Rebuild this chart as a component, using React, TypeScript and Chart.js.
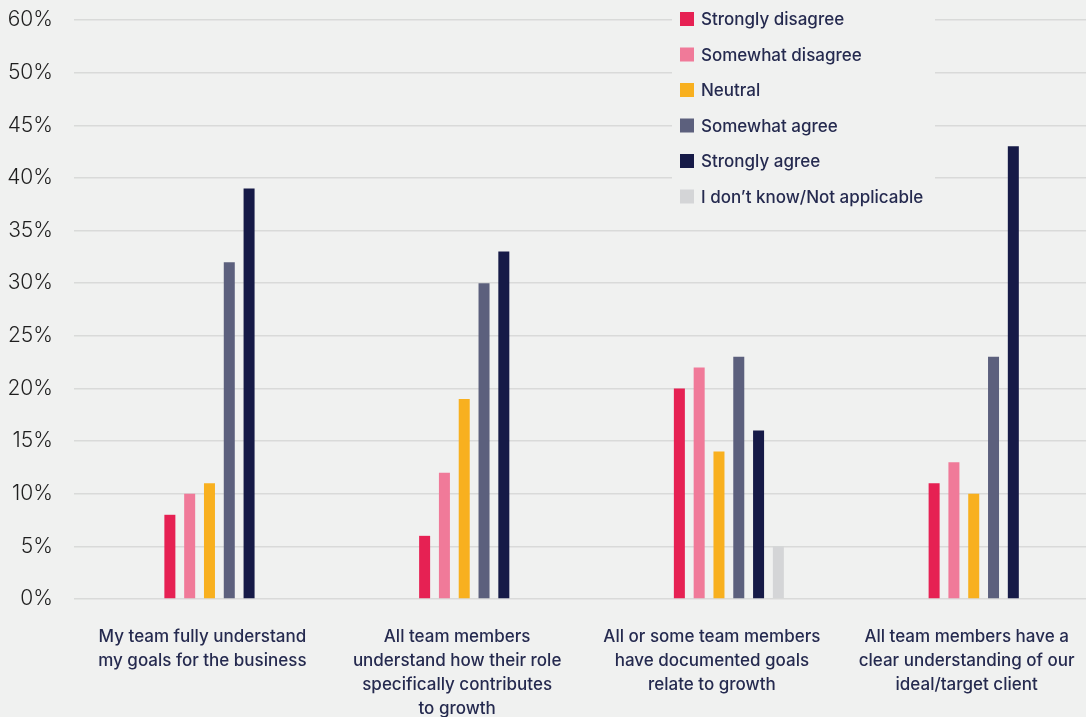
import React, { useEffect, useRef } from "react";
import { Chart, registerables } from "chart.js";

Chart.register(...registerables);

// Survey statements (multi-line axis labels)
const categories: string[][] = [
  ["My team fully understand", "my goals for the business"],
  ["All team members", "understand how their role", "specifically contributes", "to growth"],
  ["All or some team members", "have documented goals", "relate to growth"],
  ["All team members have a", "clear understanding of our", "ideal/target client"],
];

const seriesNames = [
  "Strongly disagree",
  "Somewhat disagree",
  "Neutral",
  "Somewhat agree",
  "Strongly agree",
  "I don\u2019t know/Not applicable",
];

// Share of respondents (%) per statement
const stronglyDisagree = [8, 6, 20, 11];
const somewhatDisagree = [10, 12, 22, 13];
const neutral = [11, 19, 14, 10];
const somewhatAgree = [32, 30, 23, 23];
const stronglyAgree = [39, 33, 16, 43];
const dontKnow = [0, 0, 5, 0];

const seriesColors = ["#e62153", "#f07a99", "#f8b01f", "#5c607d", "#161a47", "#d4d5d7"];

const yTickLabels = ["0%", "5%", "10%", "15%", "20%", "25%", "30%", "35%", "40%", "45%", "50%", "60%"];

const PAGE_BG = "#f0f1f0";
const TEXT_NAVY = "#252a4f";

// Legend drawn inside the plot area, on a panel that hides the grid behind it
const insetLegend = {
  id: "insetLegend",
  afterDraw(chart: any) {
    const ctx = chart.ctx as CanvasRenderingContext2D;
    ctx.save();
    ctx.fillStyle = PAGE_BG;
    ctx.fillRect(672, 0, 263, 214);
    ctx.font = "500 17px Inter";
    ctx.textBaseline = "middle";
    ctx.textAlign = "left";
    chart.data.datasets.forEach((ds: any, i: number) => {
      const cy = 19 + i * 35.5;
      ctx.fillStyle = ds.backgroundColor;
      ctx.fillRect(680, cy - 7, 14, 14);
      ctx.fillStyle = TEXT_NAVY;
      ctx.fillText(ds.label, 701, cy + 1);
    });
    ctx.restore();
  },
};

export default function App() {
  const canvasRef = useRef<HTMLCanvasElement | null>(null);

  useEffect(() => {
    document.documentElement.style.overflow = "hidden";
    document.body.style.background = PAGE_BG;
    const canvas = canvasRef.current;
    if (!canvas) return;

    const values = [stronglyDisagree, somewhatDisagree, neutral, somewhatAgree, stronglyAgree, dontKnow];

    const chart = new Chart(canvas, {
      type: "bar",
      data: {
        labels: categories,
        datasets: seriesNames.map((name, i) => ({
          label: name,
          data: values[i],
          backgroundColor: seriesColors[i],
          borderWidth: 0,
          categoryPercentage: 0.4664,
          barPercentage: 0.5556,
        })),
      },
      options: {
        responsive: false,
        animation: false,
        layout: { padding: { top: 20, right: 0, bottom: 0, left: 0 } },
        plugins: {
          legend: { display: false },
          tooltip: { enabled: false },
        },
        scales: {
          x: {
            grid: { display: false, drawTicks: false },
            border: { display: false },
            ticks: {
              color: TEXT_NAVY,
              font: { family: "Inter", size: 17, weight: "500", lineHeight: 1.41 },
              padding: 26,
              labelOffset: -17,
              maxRotation: 0,
              autoSkip: false,
            },
            afterFit(scale: any) {
              scale.height = 118;
              scale.paddingLeft = 0;
              scale.paddingRight = 0;
            },
          },
          y: {
            min: 0,
            max: 55,
            border: { display: false },
            grid: {
              color: "#d9dad9",
              lineWidth: 1.5,
              drawTicks: true,
              tickLength: 18,
            },
            ticks: {
              stepSize: 5,
              color: "#1f1f1f",
              font: { family: "Inter", size: 21, weight: "300" },
              padding: 21,
              callback: (_v: any, index: number) => yTickLabels[index],
            },
            afterFit(scale: any) {
              scale.width = 92;
              scale.paddingTop = 0;
              scale.paddingBottom = 0;
            },
          },
        },
      },
      plugins: [insetLegend],
    });

    return () => chart.destroy();
  }, []);

  return (
    <div
      style={{
        position: "fixed",
        left: 0,
        top: 0,
        width: 1111,
        height: 717,
        background: PAGE_BG,
      }}
    >
      <canvas ref={canvasRef} width={1111} height={717} style={{ display: "block" }} />
    </div>
  );
}
